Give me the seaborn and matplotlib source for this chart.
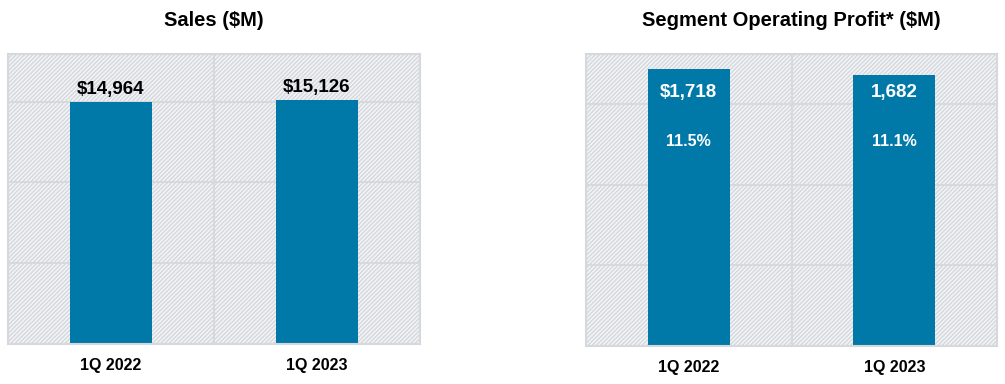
import matplotlib
matplotlib.use("Agg")
import matplotlib.pyplot as plt
import seaborn as sns
import pandas as pd
from matplotlib.patches import Rectangle

sns.set_theme(style="white")
plt.rcParams['font.family'] = ['Liberation Sans', 'DejaVu Sans']
plt.rcParams['hatch.linewidth'] = 1.1

periods = ["1Q 2022", "1Q 2023"]
sales = [14964, 15126]
sales_labels = ["$14,964", "$15,126"]
profit = [1718, 1682]
profit_labels = ["$1,718", "1,682"]
margin_labels = ["11.5%", "11.1%"]

BAR = "#0079a8"
GRID = "#d6d8dc"

fig = plt.figure(figsize=(10.05, 3.84), dpi=100)
W, H = 1005, 384
ax1 = fig.add_axes([8 / W, 1 - 344 / H, 412 / W, 290 / H])
ax2 = fig.add_axes([586 / W, 1 - 346 / H, 411 / W, 292 / H])

def style(ax, ymax, step):
    bg = Rectangle((0, 0), 1, 1, transform=ax.transAxes, facecolor="#f4f5f7",
                   edgecolor="#d5d9de", hatch="////////", linewidth=0, zorder=0)
    ax.add_patch(bg)
    ax.set_ylim(0, ymax)
    ax.set_yticks([step, 2 * step, 3 * step])
    ax.yaxis.grid(True, color=GRID, linewidth=1.3, zorder=1)
    ax.axvline(0.5, color=GRID, linewidth=1.3, zorder=1)
    ax.set_yticklabels([])
    ax.tick_params(axis="y", length=0)
    ax.tick_params(axis="x", length=0, pad=10)
    for s in ax.spines.values():
        s.set_color("#d6d8dc")
        s.set_linewidth(1.5)
    ax.set_xlabel("")
    ax.set_ylabel("")
    ax.set_axisbelow(True)
    ax.set_xlim(-0.5, 1.5)
    for t in ax.get_xticklabels():
        t.set_fontweight("bold")
        t.set_fontsize(11.5)
        t.set_color("black")

df1 = pd.DataFrame({"period": periods, "value": sales})
sns.barplot(data=df1, x="period", y="value", ax=ax1, color=BAR, width=0.4,
            saturation=1, linewidth=0, zorder=2)
style(ax1, 17950, 5000)
for i, (v, lab) in enumerate(zip(sales, sales_labels)):
    ax1.text(i, v + 250, lab, ha="center", va="bottom", fontsize=13.5,
             fontweight="bold", color="black", zorder=3)
ax1.set_title("Sales ($M)", fontsize=14.5, fontweight="bold", pad=20, color="black")

df2 = pd.DataFrame({"period": periods, "value": profit})
sns.barplot(data=df2, x="period", y="value", ax=ax2, color=BAR, width=0.4,
            saturation=1, linewidth=0, zorder=2)
style(ax2, 1810, 500)
for i, (lab, m) in enumerate(zip(profit_labels, margin_labels)):
    ax2.text(i, 1570, lab, ha="center", va="center", fontsize=13.5,
             fontweight="bold", color="white", zorder=3)
    ax2.text(i, 1268, m, ha="center", va="center", fontsize=11.5,
             fontweight="bold", color="white", zorder=3)
ax2.set_title("Segment Operating Profit* ($M)", fontsize=14.5, fontweight="bold",
              pad=20, color="black")

fig.savefig("out.png", dpi=100)
